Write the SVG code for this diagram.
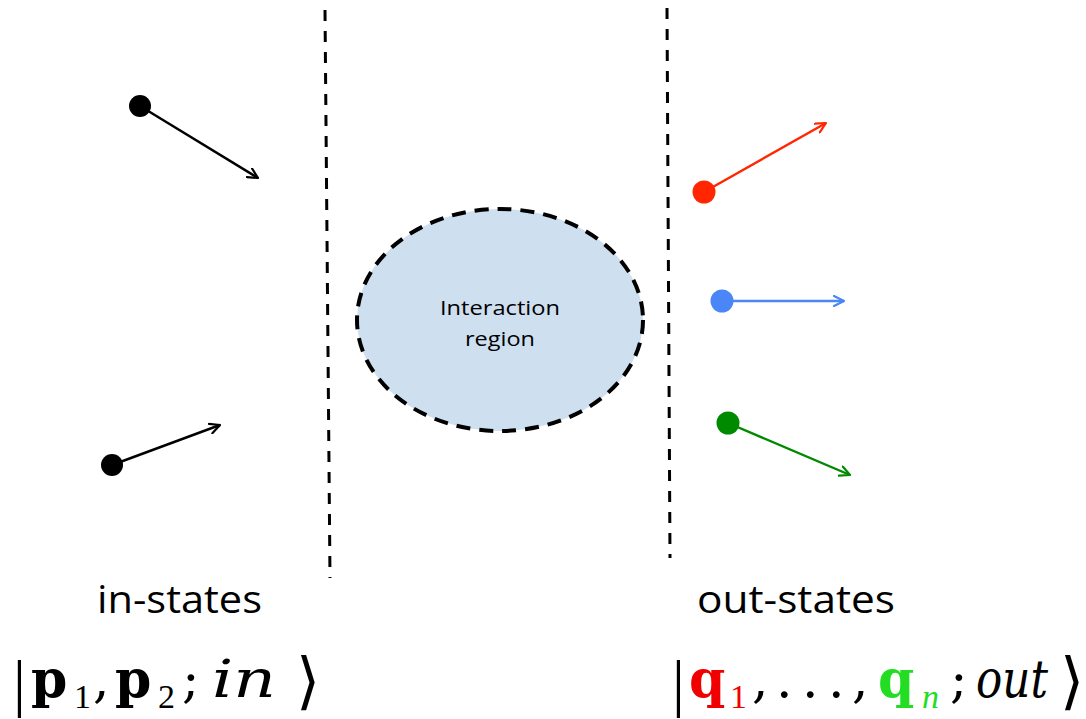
<svg xmlns="http://www.w3.org/2000/svg" width="1086" height="719" viewBox="0 0 1086 719">
<defs>
<marker id="ah-black" viewBox="0 0 12 12" refX="11" refY="6" markerWidth="12" markerHeight="12" markerUnits="userSpaceOnUse" orient="auto"><path d="M1,1 L11,6 L1,11" fill="none" stroke="#000" stroke-width="2.2" stroke-linecap="round" stroke-linejoin="round"/></marker>
<marker id="ah-red" viewBox="0 0 12 12" refX="11" refY="6" markerWidth="12" markerHeight="12" markerUnits="userSpaceOnUse" orient="auto"><path d="M1,1 L11,6 L1,11" fill="none" stroke="#ff2600" stroke-width="2.2" stroke-linecap="round" stroke-linejoin="round"/></marker>
<marker id="ah-blue" viewBox="0 0 12 12" refX="11" refY="6" markerWidth="12" markerHeight="12" markerUnits="userSpaceOnUse" orient="auto"><path d="M1,1 L11,6 L1,11" fill="none" stroke="#4a86f8" stroke-width="2.2" stroke-linecap="round" stroke-linejoin="round"/></marker>
<marker id="ah-green" viewBox="0 0 12 12" refX="11" refY="6" markerWidth="12" markerHeight="12" markerUnits="userSpaceOnUse" orient="auto"><path d="M1,1 L11,6 L1,11" fill="none" stroke="#008a00" stroke-width="2.2" stroke-linecap="round" stroke-linejoin="round"/></marker>
</defs>
<style>
.sep{stroke:#000;stroke-width:3;stroke-dasharray:11 10;fill:none}
.arr{stroke-width:2.4;fill:none}
.lbl{font-family:"Open Sans","Liberation Sans",sans-serif;fill:#000}
.math{font-family:"DejaVu Serif","Liberation Serif",serif;fill:#000}
.b{font-weight:bold}
.i{font-style:italic}
.sub{font-size:34px;font-family:"Liberation Serif","DejaVu Serif",serif}
.bar{font-size:64px;font-family:"Liberation Serif",serif}
.ang{font-size:62px;font-family:"DejaVu Serif",serif}
</style>
<rect width="1086" height="719" fill="#fff"/>
<g id="separators">
<line class="sep" x1="325" y1="10" x2="330" y2="578"/>
<line class="sep" x1="667" y1="8" x2="670" y2="558"/>
</g>
<g id="interaction-region">
<ellipse cx="500" cy="320" rx="143" ry="111" fill="#cedff0" stroke="#000" stroke-width="4" stroke-dasharray="14 9"/>
<text class="lbl" x="500" y="315" font-size="20" text-anchor="middle" textLength="120" lengthAdjust="spacingAndGlyphs">Interaction</text>
<text class="lbl" x="500" y="346" font-size="20" text-anchor="middle" textLength="70" lengthAdjust="spacingAndGlyphs">region</text>
</g>
<g id="connectors">
<line class="arr" stroke="#000" x1="140" y1="106" x2="258" y2="178" marker-end="url(#ah-black)"/>
<line class="arr" stroke="#000" x1="112" y1="465" x2="220" y2="425" marker-end="url(#ah-black)"/>
<line class="arr" stroke="#ff2600" x1="704" y1="192" x2="826" y2="123" marker-end="url(#ah-red)"/>
<line class="arr" stroke="#4a86f8" x1="722" y1="301" x2="844" y2="301" marker-end="url(#ah-blue)"/>
<line class="arr" stroke="#008a00" x1="728" y1="423" x2="850" y2="475" marker-end="url(#ah-green)"/>
</g>
<g id="in-particles">
<circle cx="140" cy="106" r="11" fill="#000"/>
<circle cx="112" cy="465" r="11" fill="#000"/>
</g>
<g id="out-particles">
<circle cx="704" cy="192" r="11.5" fill="#ff2600"/>
<circle cx="722" cy="301" r="11.5" fill="#4a86f8"/>
<circle cx="728" cy="423" r="11.5" fill="#008a00"/>
</g>
<g id="in-states">
<text class="lbl" x="97" y="613" font-size="38" textLength="165" lengthAdjust="spacingAndGlyphs">in-states</text>
<text class="math" font-size="52"><tspan class="bar" x="13" y="704">|</tspan><tspan class="b" x="31" y="697">p</tspan><tspan class="sub" x="74" y="708">1</tspan><tspan x="93" y="697">,</tspan><tspan class="b" x="115" y="697">p</tspan><tspan class="sub" x="158" y="708">2</tspan><tspan x="182" y="697">;</tspan><tspan class="i" x="212" y="697" textLength="64" lengthAdjust="spacingAndGlyphs">in</tspan><tspan class="ang" x="296" y="702">⟩</tspan></text>
</g>
<g id="out-states">
<text class="lbl" x="697" y="613" font-size="38" textLength="198" lengthAdjust="spacingAndGlyphs">out-states</text>
<text class="math" font-size="52"><tspan class="bar" x="672" y="704">|</tspan><tspan class="b" x="689" y="697" fill="#f00000">q</tspan><tspan class="sub" x="730" y="708" fill="#f00000">1</tspan><tspan x="752" y="697">,</tspan><tspan x="776" y="697">.</tspan><tspan x="802" y="697">.</tspan><tspan x="828" y="697">.</tspan><tspan x="852" y="697">,</tspan><tspan class="b" x="878" y="697" fill="#22dd22">q</tspan><tspan class="sub i" x="922" y="708" fill="#22dd22">n</tspan><tspan x="950" y="697">;</tspan><tspan class="i" x="976" y="697" textLength="72" lengthAdjust="spacingAndGlyphs">out</tspan><tspan class="ang" x="1060" y="702">⟩</tspan></text>
</g>
</svg>
